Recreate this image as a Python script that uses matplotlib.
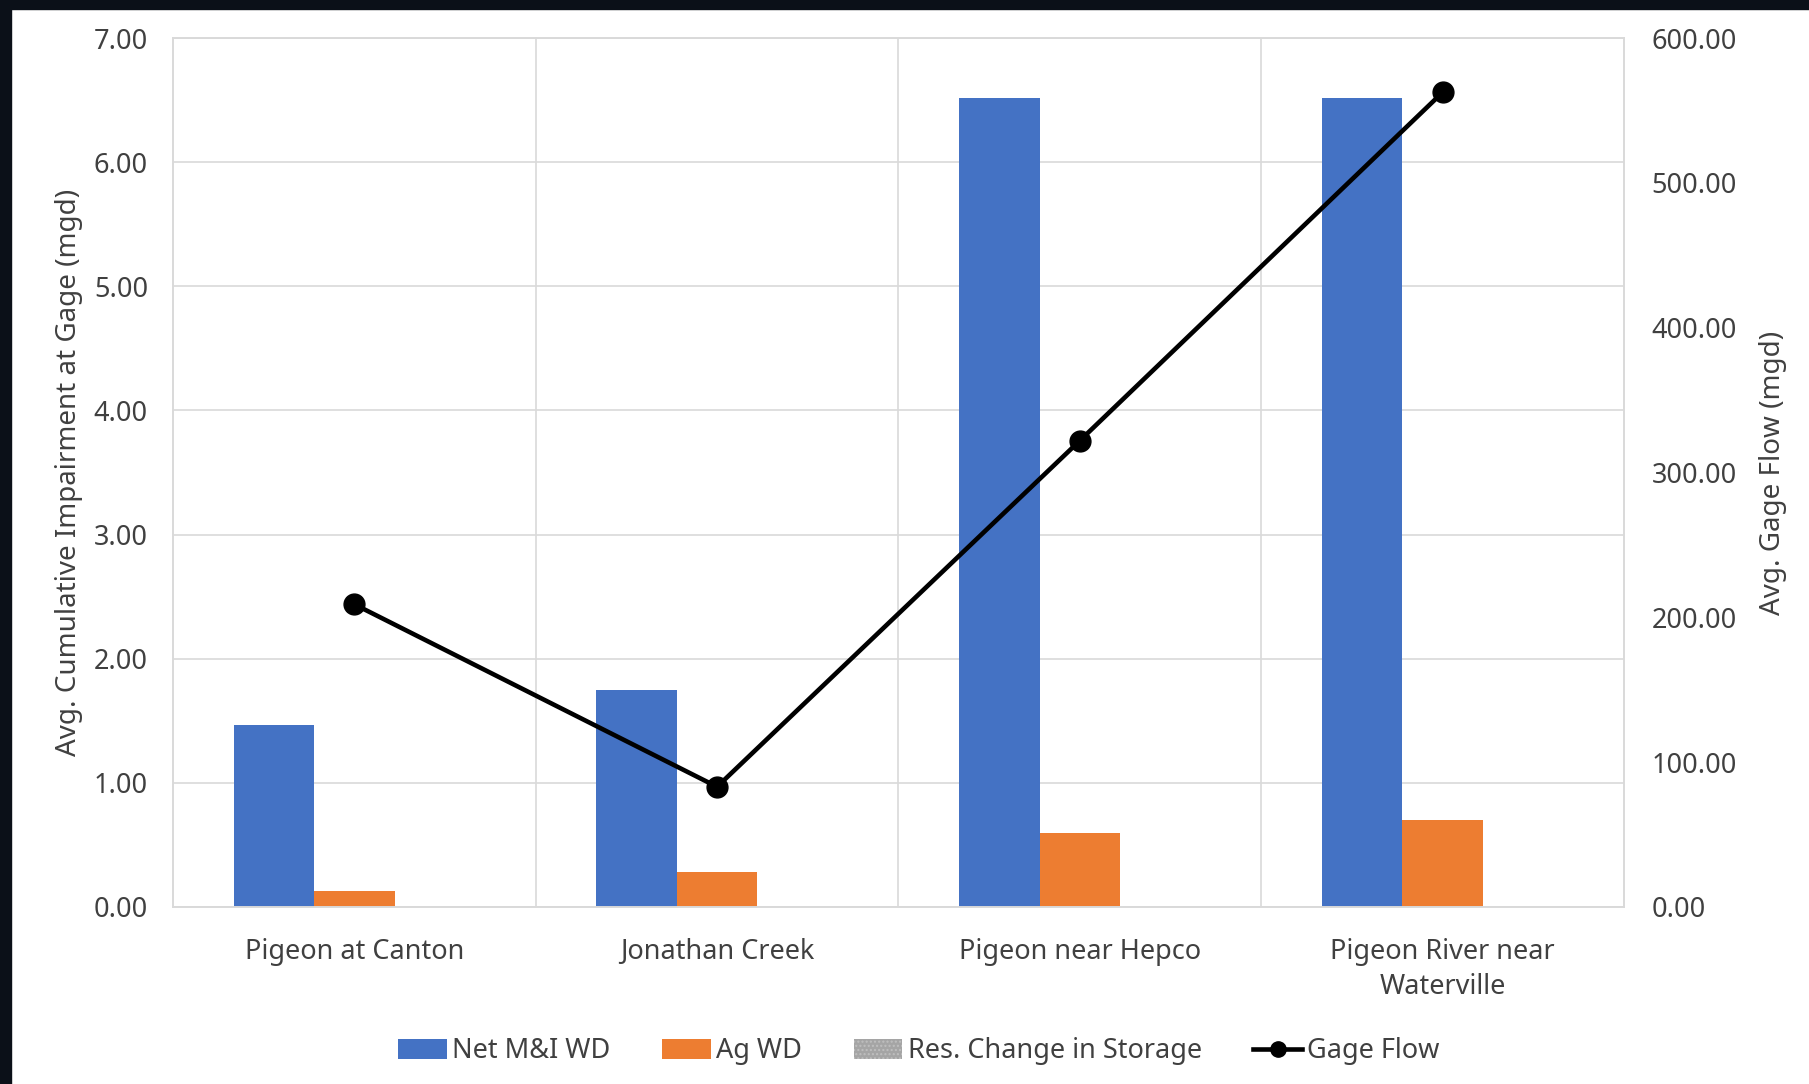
import numpy as np
import matplotlib.pyplot as plt
from matplotlib.patches import Patch, Rectangle
from matplotlib.lines import Line2D

plt.rcParams['font.family'] = ['Noto Sans', 'DejaVu Sans']

# gage sites and impairment components (mgd)
sites = ['Pigeon at Canton', 'Jonathan Creek', 'Pigeon near Hepco', 'Pigeon River near\nWaterville']
net_mi_wd = [1.47, 1.75, 6.52, 6.52]
ag_wd = [0.13, 0.28, 0.60, 0.70]
res_storage = [0.0, 0.0, 0.0, 0.0]
gage_flow = [209.0, 83.0, 322.0, 562.5]

blue = '#4472c4'
orange = '#ed7d31'
gray = '#a5a5a5'
text_c = '#404040'
grid_c = '#d9d9d9'

fig = plt.figure(figsize=(18.09, 10.84), dpi=100)
ax = fig.add_axes([0.0956, 0.1633, 0.8021, 0.8016])
ax2 = ax.twinx()

x = np.arange(len(sites))
w = 0.222
ax.bar(x - w, net_mi_wd, w, color=blue, zorder=2)
ax.bar(x, ag_wd, w, color=orange, zorder=2)
ax.bar(x + w, res_storage, w, color=gray, zorder=2)

ax2.plot(x, gage_flow, color='black', lw=3.3, marker='o', ms=15, zorder=3)

ax.set_xlim(-0.5, 3.5)
ax.set_ylim(0, 7)
ax2.set_ylim(0, 600)
ax.set_yticks(np.arange(0, 7.01, 1))
ax.set_yticklabels([f'{v:.2f}' for v in np.arange(0, 7.01, 1)])
ax2.set_yticks(np.arange(0, 601, 100))
ax2.set_yticklabels([f'{v:.2f}' for v in np.arange(0, 601, 100)])
ax.set_xticks(x)
ax.set_xticklabels(sites, linespacing=1.35)

ax.grid(axis='y', color=grid_c, lw=1.2, zorder=0)
for b in [0.5, 1.5, 2.5]:
    ax.axvline(b, color=grid_c, lw=1.2, zorder=0)
ax.set_axisbelow(True)

for a in (ax, ax2):
    for s in a.spines.values():
        s.set_color(grid_c)
        s.set_linewidth(1.2)
    a.tick_params(length=0, labelsize=19.5, colors=text_c)
ax.tick_params(axis='y', pad=18)
ax2.tick_params(axis='y', pad=20)
ax.tick_params(axis='x', pad=22)

ax.set_ylabel('Avg. Cumulative Impairment at Gage (mgd)', fontsize=20, color=text_c, labelpad=8)
ax2.set_ylabel('Avg. Gage Flow (mgd)', fontsize=20, color=text_c, labelpad=16, rotation=90)

handles = [
    Patch(facecolor=blue, label='Net M&I WD'),
    Patch(facecolor=orange, label='Ag WD'),
    Patch(facecolor=gray, edgecolor='#bfbfbf', hatch='....', lw=0, label='Res. Change in Storage'),
    Line2D([0], [0], color='black', lw=3.3, marker='o', ms=11, label='Gage Flow'),
]
fig.legend(handles=handles, loc='center', bbox_to_anchor=(0.508, 0.030), ncol=4,
           frameon=False, fontsize=19.5, handlelength=1.8, handleheight=0.8,
           handletextpad=0.2, columnspacing=1.9, labelcolor=text_c)

# dark frame along the left and top edges
fig.patches.append(Rectangle((0, 0), 11 / 1809, 1, transform=fig.transFigure,
                             color='#0b1018', zorder=10))
fig.patches.append(Rectangle((0, 1 - 9 / 1084), 1, 9 / 1084, transform=fig.transFigure,
                             color='#0b1018', zorder=10))

fig.savefig('out.png', dpi=100)
